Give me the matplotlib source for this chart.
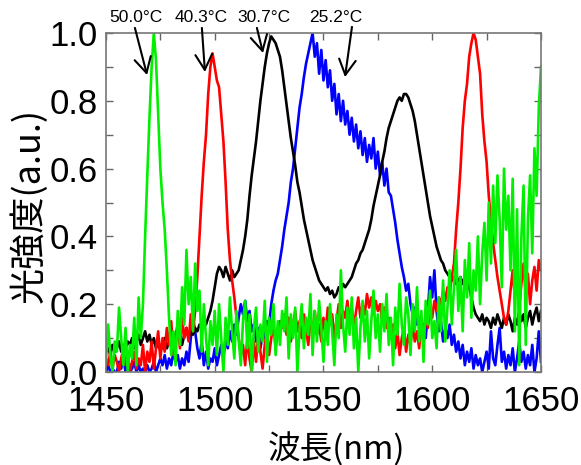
import numpy as np
import matplotlib
matplotlib.use("Agg")
import matplotlib.pyplot as plt


# wavelength grid, 1 nm step
wavelength = np.arange(1450, 1651)

temps = ["25.2°C", "30.7°C", "40.3°C", "50.0°C"]

spec_25 = [
    0.00, 0.02, 0.00, 0.01, 0.00, 0.00, 0.03, 0.01, 0.04, 0.00,
    0.02, 0.00, 0.01, 0.03, 0.00, 0.02, 0.00, 0.01, 0.00, 0.02,
    0.00, 0.01, 0.03, 0.00, 0.02, 0.04, 0.02, 0.05, 0.01, 0.04,
    0.02, 0.06, 0.03, 0.05, 0.01, 0.04, 0.02, 0.06, 0.03, 0.10,
    0.16, 0.12, 0.07, 0.04, 0.09, 0.02, 0.06, 0.01, 0.04, 0.03,
    0.07, 0.02, 0.05, 0.08, 0.04, 0.10, 0.07, 0.12, 0.09, 0.14,
    0.11, 0.16, 0.20, 0.17, 0.21, 0.15, 0.18, 0.12, 0.14, 0.09,
    0.13, 0.07, 0.11, 0.10, 0.15, 0.14, 0.20, 0.24, 0.27, 0.29,
    0.33, 0.37, 0.42, 0.46, 0.50, 0.56, 0.60, 0.66, 0.72, 0.78,
    0.82, 0.87, 0.91, 0.94, 0.97, 1.00, 0.93, 0.97, 0.88, 0.95,
    0.86, 0.92, 0.84, 0.89, 0.80, 0.85, 0.76, 0.82, 0.74, 0.80,
    0.73, 0.77, 0.70, 0.75, 0.68, 0.73, 0.66, 0.71, 0.64, 0.69,
    0.62, 0.67, 0.63, 0.69, 0.60, 0.65, 0.58, 0.62, 0.55, 0.60,
    0.53, 0.52, 0.48, 0.44, 0.39, 0.35, 0.31, 0.28, 0.24, 0.26,
    0.20, 0.17, 0.19, 0.14, 0.16, 0.11, 0.14, 0.10, 0.18, 0.28,
    0.22, 0.30, 0.18, 0.12, 0.15, 0.09, 0.13, 0.10, 0.14, 0.08,
    0.11, 0.06, 0.09, 0.04, 0.08, 0.02, 0.06, 0.03, 0.07, 0.01,
    0.05, 0.02, 0.04, 0.00, 0.03, 0.06, 0.01, 0.12, 0.04, 0.02,
    0.08, 0.13, 0.03, 0.06, 0.01, 0.05, 0.02, 0.07, 0.00, 0.04,
    0.09, 0.03, 0.06, 0.01, 0.05, 0.02, 0.08, 0.00, 0.04, 0.12,
    0.03,
]

spec_30 = [
    0.06, 0.07, 0.05, 0.08, 0.06, 0.07, 0.09, 0.06, 0.08, 0.07,
    0.09, 0.08, 0.10, 0.07, 0.09, 0.11, 0.08, 0.10, 0.12, 0.09,
    0.11, 0.08, 0.10, 0.07, 0.09, 0.06, 0.08, 0.10, 0.07, 0.09,
    0.08, 0.11, 0.09, 0.12, 0.10, 0.08, 0.11, 0.13, 0.10, 0.12,
    0.11, 0.13, 0.12, 0.14, 0.13, 0.15, 0.14, 0.16, 0.18, 0.21,
    0.25, 0.29, 0.31, 0.30, 0.28, 0.31, 0.29, 0.27, 0.30, 0.28,
    0.29, 0.30, 0.33, 0.36, 0.40, 0.45, 0.52, 0.58, 0.63, 0.68,
    0.74, 0.80, 0.85, 0.90, 0.94, 0.97, 0.99, 0.98, 0.97, 0.95,
    0.93, 0.89, 0.84, 0.79, 0.74, 0.69, 0.65, 0.61, 0.56, 0.53,
    0.49, 0.45, 0.42, 0.39, 0.36, 0.33, 0.31, 0.29, 0.27, 0.26,
    0.25, 0.24, 0.25, 0.23, 0.24, 0.22, 0.23, 0.25, 0.24, 0.26,
    0.25, 0.26, 0.27, 0.28, 0.30, 0.32, 0.33, 0.35, 0.36, 0.38,
    0.40, 0.42, 0.45, 0.49, 0.52, 0.55, 0.58, 0.62, 0.65, 0.69,
    0.72, 0.74, 0.76, 0.78, 0.80, 0.81, 0.80, 0.82, 0.82, 0.81,
    0.79, 0.77, 0.74, 0.70, 0.66, 0.62, 0.58, 0.54, 0.50, 0.46,
    0.43, 0.40, 0.37, 0.35, 0.33, 0.32, 0.30, 0.29, 0.28, 0.27,
    0.28, 0.26, 0.27, 0.28, 0.26, 0.28, 0.27, 0.25, 0.22, 0.19,
    0.17, 0.16, 0.15, 0.17, 0.14, 0.16, 0.15, 0.13, 0.16, 0.14,
    0.17, 0.15, 0.13, 0.16, 0.14, 0.17, 0.15, 0.12, 0.16, 0.14,
    0.18, 0.15, 0.17, 0.13, 0.16, 0.18, 0.14, 0.17, 0.19, 0.15,
    0.18,
]

spec_40 = [
    0.04, 0.02, 0.06, 0.01, 0.05, 0.03, 0.00, 0.04, 0.07, 0.02,
    0.05, 0.00, 0.03, 0.06, 0.01, 0.04, 0.02, 0.08, 0.00, 0.06,
    0.03, 0.09, 0.01, 0.07, 0.12, 0.04, 0.10, 0.06, 0.13, 0.08,
    0.15, 0.05, 0.11, 0.14, 0.07, 0.16, 0.10, 0.13, 0.09, 0.17,
    0.12, 0.18, 0.28, 0.40, 0.52, 0.62, 0.70, 0.82, 0.90, 0.94,
    0.90, 0.86, 0.84, 0.76, 0.68, 0.56, 0.42, 0.33, 0.27, 0.22,
    0.16, 0.10, 0.05, 0.08, 0.02, 0.10, 0.04, 0.00, 0.09, 0.03,
    0.11, 0.06, 0.01, 0.08, 0.12, 0.05, 0.10, 0.14, 0.07, 0.12,
    0.15, 0.13, 0.17, 0.11, 0.16, 0.09, 0.14, 0.18, 0.12, 0.15,
    0.10, 0.17, 0.13, 0.08, 0.15, 0.12, 0.18, 0.11, 0.14, 0.09,
    0.16, 0.12, 0.19, 0.14, 0.17, 0.10, 0.15, 0.20, 0.13, 0.18,
    0.16, 0.21, 0.15, 0.19, 0.13, 0.18, 0.22, 0.16, 0.20, 0.17,
    0.23, 0.19, 0.22, 0.17, 0.21, 0.18, 0.20, 0.15, 0.19, 0.13,
    0.16, 0.10, 0.14, 0.07, 0.12, 0.05, 0.10, 0.13, 0.06, 0.11,
    0.08, 0.14, 0.09, 0.12, 0.07, 0.15, 0.11, 0.17, 0.13, 0.19,
    0.16, 0.21, 0.18, 0.22, 0.20, 0.24, 0.21, 0.25, 0.23, 0.28,
    0.32, 0.42, 0.50, 0.60, 0.72, 0.80, 0.85, 0.93, 0.97, 1.00,
    0.98, 0.93, 0.88, 0.76, 0.68, 0.62, 0.52, 0.45, 0.38, 0.33,
    0.28, 0.24, 0.20, 0.16, 0.14, 0.18, 0.24, 0.30, 0.22, 0.28,
    0.19, 0.26, 0.32, 0.23, 0.29, 0.20, 0.27, 0.31, 0.24, 0.33,
    0.30,
]

spec_50 = [
    0.03, 0.14, 0.05, 0.00, 0.09, 0.06, 0.19, 0.10, 0.02, 0.13,
    0.00, 0.08, 0.04, 0.16, 0.02, 0.22, 0.10, 0.20, 0.40, 0.58,
    0.75, 0.90, 1.00, 0.92, 0.76, 0.60, 0.50, 0.42, 0.30, 0.16,
    0.05, 0.12, 0.02, 0.18, 0.08, 0.25, 0.14, 0.36, 0.20, 0.28,
    0.12, 0.32, 0.18, 0.24, 0.06, 0.20, 0.10, 0.02, 0.15, 0.08,
    0.18, 0.05, 0.20, 0.10, 0.00, 0.16, 0.08, 0.22, 0.12, 0.04,
    0.18, 0.10, 0.02, 0.15, 0.21, 0.07, 0.17, 0.00, 0.13, 0.19,
    0.06, 0.14, 0.09, 0.21, 0.03, 0.16, 0.11, 0.20, 0.05, 0.15,
    0.08, 0.18, 0.12, 0.22, 0.04, 0.17, 0.10, 0.19, 0.00, 0.13,
    0.20, 0.07, 0.16, 0.11, 0.23, 0.05, 0.18, 0.09, 0.21, 0.13,
    0.03, 0.15, 0.08, 0.20, 0.12, 0.02, 0.17, 0.10, 0.30, 0.14,
    0.06, 0.19, 0.11, 0.22, 0.07, 0.16, 0.00, 0.13, 0.21, 0.09,
    0.18, 0.04, 0.15, 0.24, 0.10, 0.17, 0.06, 0.20, 0.12, 0.23,
    0.08, 0.16, 0.02, 0.19, 0.11, 0.26, 0.14, 0.08, 0.22, 0.17,
    0.05, 0.20, 0.12, 0.25, 0.09, 0.18, 0.03, 0.21, 0.14, 0.24,
    0.10, 0.15, 0.07, 0.22, 0.12, 0.27, 0.09, 0.19, 0.30, 0.14,
    0.25, 0.36, 0.18, 0.28, 0.12, 0.33, 0.22, 0.38, 0.16, 0.30,
    0.24, 0.40, 0.20, 0.35, 0.44, 0.27, 0.50, 0.32, 0.55, 0.38,
    0.58, 0.45, 0.25, 0.60, 0.42, 0.52, 0.30, 0.57, 0.12, 0.48,
    0.02, 0.40, 0.55, 0.08, 0.45, 0.58, 0.35, 0.66, 0.52, 0.78,
    0.90,
]

colors = ["#0000ff", "#000000", "#ff0000", "#00f000"]

# label text position and arrow (tail, head) per temperature, in data units
label_x = [1555.7, 1522.6, 1493.7, 1463.8]
arrow_tail = [(1563.1, 1.018), (1519.4, 1.015), (1494.1, 1.015), (1463.3, 1.015)]
arrow_head = [(1559.9, 0.870), (1522.2, 0.941), (1495.5, 0.885), (1468.9, 0.876)]

jp_font = ["Noto Sans CJK JP", "DejaVu Sans"]
num_font = ["Liberation Sans", "DejaVu Sans"]

fig = plt.figure(figsize=(5.81, 4.65), dpi=100)
ax = fig.add_axes([0.1824, 0.2, 0.7487, 0.729])

for spec, c in zip([spec_25, spec_30, spec_40, spec_50], colors):
    ax.plot(wavelength, spec, color=c, lw=1.9)

ax.set_xlim(1450, 1650)
ax.set_ylim(0, 1.0)
ax.set_xticks([1450, 1500, 1550, 1600, 1650])
ax.set_xticks(np.arange(1475, 1650, 50), minor=True)
ax.set_yticks([0.0, 0.2, 0.4, 0.6, 0.8, 1.0])
ax.set_yticks(np.arange(0.1, 1.0, 0.2), minor=True)
ax.set_yticklabels(["0.0", "0.2", "0.4", "0.6", "0.8", "1.0"])

ax.tick_params(which="both", direction="in", top=True, right=True,
               length=5, width=1, color="#666666")
ax.tick_params(axis="x", which="major", labelsize=25, pad=9)
ax.tick_params(axis="y", which="major", labelsize=25, pad=6)
for lab in ax.get_xticklabels() + ax.get_yticklabels():
    lab.set_family(num_font)
for sp in ax.spines.values():
    sp.set_color("#777777")
    sp.set_linewidth(1.2)

ax.set_xlabel("波長(nm)", family=jp_font, fontsize=23.5)
ax.xaxis.set_label_coords(0.53, -0.178)
ax.set_ylabel("光強度(a.u.)", family=jp_font, fontsize=26)
ax.yaxis.set_label_coords(-0.135, 0.49)

for t, lx, tail, head in zip(temps, label_x, arrow_tail, arrow_head):
    ax.text(lx, 1.045, t, ha="center", va="center", fontsize=12.5,
            family=num_font, clip_on=False)
    ax.annotate("", xy=head, xytext=tail,
                arrowprops=dict(arrowstyle="->,head_length=0.55,head_width=0.3",
                                lw=1.5, color="black", mutation_scale=20,
                                shrinkA=0, shrinkB=0),
                annotation_clip=False)

fig.savefig("out.png", dpi=100)
